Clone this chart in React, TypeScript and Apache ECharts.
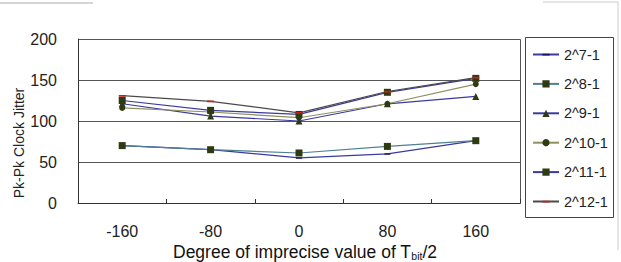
import React, { useEffect, useRef } from "react";
import * as echarts from "echarts";

const categories = ["-160", "-80", "0", "80", "160"];
const yTicks = [0, 50, 100, 150, 200];
const s7 = [70, 65, 55, 60, 76];
const s8 = [70, 65, 61, 69, 76];
const s9 = [121, 106, 100, 121, 130];
const s10 = [116, 111, 104, 121, 145];
const s11 = [125, 113, 108, 135, 152];
const s12 = [131, 124, 110, 136, 153];

const FONT = "Liberation Sans";
const MARK = "#2e3b10";
const DASH = "path://M0,4L10,4L10,6.5L0,6.5Z M0,0L0.01,0 M0,10L0.01,10";

export default function App() {
  const ref = useRef<HTMLDivElement>(null);
  useEffect(() => {
    const chart = echarts.init(ref.current!, null, { renderer: "svg" });
    const mk = (name: string, data: number[], line: string, symbol: string, size: number, mcol: string) => ({
      name,
      type: "line",
      data,
      symbol,
      symbolSize: size,
      showSymbol: true,
      lineStyle: { color: line, width: 1.2 },
      itemStyle: { color: mcol, borderWidth: 0 },
      emphasis: { disabled: true },
    });
    chart.setOption({
      animation: false,
      backgroundColor: "#ffffff",
      grid: { left: 78, right: 101, top: 39, bottom: 59 },
      title: {
        text: "{a|Degree of imprecise value of T}{s|bit}{a|/2}",
        left: 173,
        top: 243,
        padding: 0,
        textStyle: {
          fontWeight: "normal",
          rich: {
            a: { fontFamily: FONT, fontSize: 17.5, color: "#111", fontWeight: "normal" },
            s: { fontFamily: FONT, fontSize: 10.5, color: "#111", fontWeight: "normal", verticalAlign: "bottom", padding: [7, 0, 0, 0] },
          },
        },
      },
      xAxis: {
        type: "category",
        data: categories,
        boundaryGap: true,
        axisLine: { lineStyle: { color: "#333", width: 1 } },
        axisTick: { show: true, inside: true, length: 4, lineStyle: { color: "#333" } },
        axisLabel: { fontFamily: FONT, fontSize: 16, color: "#222", margin: 20 },
        splitLine: { show: false },
      },
      yAxis: {
        type: "value",
        min: 0,
        max: 200,
        interval: 50,
        axisLine: { show: true, lineStyle: { color: "#333", width: 1 } },
        axisTick: { show: false },
        axisLabel: {
          fontFamily: FONT,
          fontSize: 16,
          color: "#222",
          margin: 21,
          formatter: (v: number) => (yTicks.includes(v) ? String(v) : ""),
        },
        splitLine: { show: true, lineStyle: { color: "#555", width: 1 } },
      },
      legend: {
        orient: "vertical",
        left: 527,
        top: 42,
        itemWidth: 26,
        itemHeight: 9,
        itemGap: 14.4,
        textStyle: { fontFamily: FONT, fontSize: 14.5, color: "#222" },
        data: ["2^7-1", "2^8-1", "2^9-1", "2^10-1", "2^11-1", "2^12-1"],
      },
      series: [
        mk("2^7-1", s7, "#3a3aa0", DASH, 6, "#1a1a60"),
        mk("2^8-1", s8, "#4f7f93", "rect", 7, MARK),
        mk("2^9-1", s9, "#3a3aa0", "triangle", 7, MARK),
        mk("2^10-1", s10, "#8f8f60", "circle", 6, MARK),
        mk("2^11-1", s11, "#3a3aa0", "rect", 7, MARK),
        mk("2^12-1", s12, "#4a4a4a", DASH, 7, "#c02020"),
      ],
      graphic: [
        {
          type: "rect",
          shape: { x: 525.5, y: 37.5, width: 88, height: 180 },
          style: { fill: "none", stroke: "#444", lineWidth: 1 },
        },
        {
          type: "rect",
          shape: { x: 78.5, y: 39.5, width: 442, height: 164 },
          style: { fill: "none", stroke: "#555", lineWidth: 1 },
          silent: true,
        },
        {
          type: "line",
          shape: { x1: 0, y1: 3, x2: 93, y2: 3 },
          style: { stroke: "#aaa", lineWidth: 1 },
        },
        {
          type: "polyline",
          shape: { points: [[543, 2], [618, 2], [618, 250]] },
          style: { stroke: "#ccc", lineWidth: 1, fill: "none" },
        },
        {
          type: "text",
          x: 19,
          y: 143,
          rotation: Math.PI / 2,
          style: {
            text: "Pk-Pk Clock Jitter",
            fontFamily: FONT,
            fontSize: 14,
            fill: "#222",
            align: "center",
            verticalAlign: "middle",
          },
        },
      ],
    });
    return () => chart.dispose();
  }, []);
  return <div ref={ref} style={{ width: 621, height: 262, position: "absolute", left: 0, top: 0 }} />;
}
